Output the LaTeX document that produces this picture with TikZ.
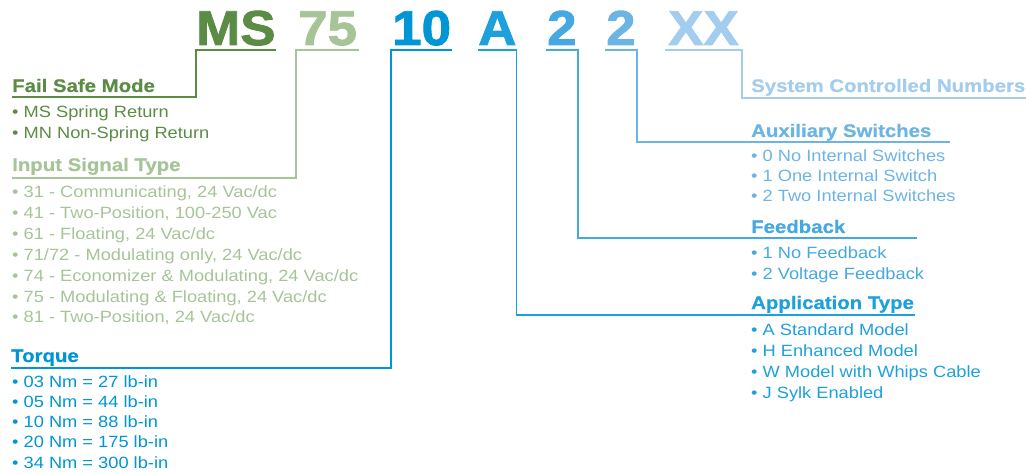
\documentclass[tikz,border=0pt]{standalone}
\usepackage{fontspec}
\setmainfont{Liberation Sans}
\newfontfamily\bodyfont[FakeStretch=1.12]{Liberation Sans}
\newfontfamily\headfont[FakeStretch=1.12,FakeBold=0.6]{Liberation Sans Bold}
\newfontfamily\codefont[FakeStretch=1.08,FakeBold=1.8]{Liberation Sans Bold}
\definecolor{msgreen}{HTML}{5B8C46}
\definecolor{sigreen}{HTML}{A6C497}
\definecolor{tqblue}{HTML}{0096D6}
\definecolor{apblue}{HTML}{1EA0DC}
\definecolor{fbblue}{HTML}{45A8E0}
\definecolor{axblue}{HTML}{6CB4E4}
\definecolor{scblue}{HTML}{A3CDEE}

\begin{document}
\begin{tikzpicture}[x=1pt,y=-1pt,
    code/.style={inner sep=0pt,anchor=base west,font=\codefont\fontsize{49}{49}\selectfont},
    head/.style={inner sep=0pt,anchor=base west,font=\headfont\fontsize{18.2}{20}\selectfont},
    item/.style={inner sep=0pt,anchor=base west,font=\bodyfont\fontsize{16.3}{20}\selectfont},
    lead/.style={line width=1.7pt}]
    \useasboundingbox (0,0) rectangle (1026,473);

    % model number
    \node[code,text=msgreen] at(196,45)(cMS){MS};
    \node[code,text=sigreen,inner xsep=2pt] at(296,45)(c75){75};
    \node[code,text=tqblue,inner xsep=1pt] at(391,45)(c10){10};
    \node[code,text=apblue] at(478,45)(cA){A};
    \node[code,text=fbblue,inner xsep=1pt] at(546,45)(c2a){2};
    \node[code,text=axblue,inner xsep=1pt] at(605,45)(c2b){2};
    \node[code,text=scblue,inner xsep=3pt] at(665,45)(cXX){XX};

    % left side
    \node[head,text=msgreen] at(12,92)(hFail){Fail Safe Mode};
    \foreach \t [count=\i] in {MS Spring Return, MN Non-Spring Return}
        \node[item,text=msgreen] at(12,{118+21*(\i-1)})(fs\i){• \t};
    \node[head,text=sigreen] at(12,171)(hInput){Input Signal Type};
    \foreach \t [count=\i] in {{31 - Communicating, 24 Vac/dc}, {41 - Two-Position, 100-250 Vac},
        {61 - Floating, 24 Vac/dc}, {71/72 - Modulating only, 24 Vac/dc},
        {74 - Economizer \& Modulating, 24 Vac/dc}, {75 - Modulating \& Floating, 24 Vac/dc},
        {81 - Two-Position, 24 Vac/dc}}
        \node[item,text=sigreen] at(12,{198+20.8*(\i-1)})(in\i){• \t};
    \node[head,text=tqblue] at(11,362)(hTorque){Torque};
    \foreach \t [count=\i] in {03 Nm = 27 lb-in, 05 Nm = 44 lb-in, 10 Nm = 88 lb-in,
        20 Nm = 175 lb-in, 34 Nm = 300 lb-in}
        \node[item,text=tqblue] at(12,{387+20.25*(\i-1)})(tq\i){• \t};

    % right side
    \node[head,text=scblue] at(751,92)(hSys){System Controlled Numbers};
    \node[head,text=axblue] at(751,137)(hAux){Auxiliary Switches};
    \foreach \t [count=\i] in {0 No Internal Switches, 1 One Internal Switch, 2 Two Internal Switches}
        \node[item,text=axblue] at(751,{162+19.7*(\i-1)})(ax\i){• \t};
    \node[head,text=fbblue] at(751,233)(hFb){Feedback};
    \foreach \t [count=\i] in {1 No Feedback, 2 Voltage Feedback}
        \node[item,text=fbblue] at(751,{259+20.8*(\i-1)})(fb\i){• \t};
    \node[head,text=apblue] at(751,309)(hApp){Application Type};
    \foreach \t [count=\i] in {A Standard Model, H Enhanced Model, W Model with Whips Cable, J Sylk Enabled}
        \node[item,text=apblue] at(751,{335+21*(\i-1)})(ap\i){• \t};

    % free ends of the leaders
    \coordinate (eSys) at(1026,98);
    \coordinate (eAux) at(950,142);
    \coordinate (eFb) at(917,238);
    \coordinate (eApp) at(915,315);

    % leaders
    \draw[lead,msgreen] ([yshift=-5pt]hFail.base west) -| ([yshift=-5pt]cMS.base west) -- ([yshift=-5pt]cMS.base east);
    \draw[lead,sigreen] ([yshift=-7pt]hInput.base west) -| ([yshift=-5pt]c75.base west) -- ([yshift=-5pt]c75.base east);
    \draw[lead,tqblue] ([yshift=-6pt]hTorque.base west) -| ([yshift=-5pt]c10.base west) -- ([yshift=-5pt]c10.base east);
    \draw[lead,apblue] ([yshift=-5pt]cA.base west) -- ([yshift=-5pt]cA.base east) |- (eApp);
    \draw[lead,fbblue] ([yshift=-5pt]c2a.base west) -- ([yshift=-5pt]c2a.base east) |- (eFb);
    \draw[lead,axblue] ([yshift=-5pt]c2b.base west) -- ([yshift=-5pt]c2b.base east) |- (eAux);
    \draw[lead,scblue] ([yshift=-5pt]cXX.base west) -- ([yshift=-5pt]cXX.base east) |- (eSys);
\end{tikzpicture}
\end{document}
